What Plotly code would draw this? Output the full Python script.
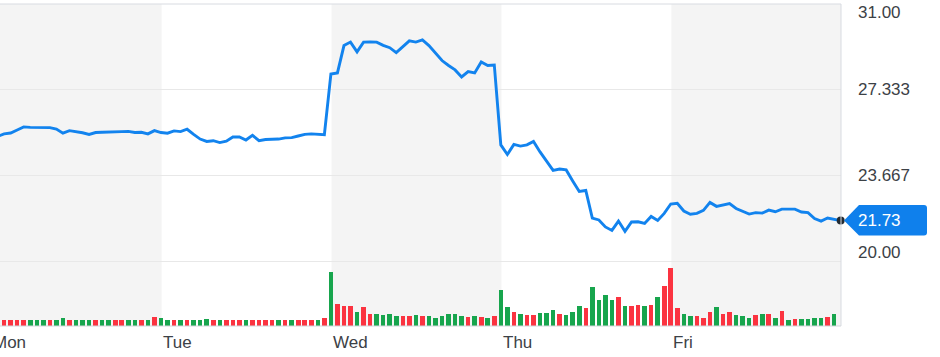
import plotly.graph_objects as go

# ---------------- data ----------------
days = ["Mon", "Tue", "Wed", "Thu", "Fri"]
bars_per_day = 26

# 15-minute closes (Mon..Fri) plus the final close at the end of Friday
price_mon = [25.31, 25.33, 25.44, 25.48, 25.61, 25.74, 25.72, 25.72, 25.72, 25.71, 25.65, 25.47, 25.58,
             25.54, 25.49, 25.42, 25.50, 25.51, 25.51, 25.51, 25.54, 25.55, 25.50, 25.51, 25.44, 25.58]
price_tue = [25.50, 25.47, 25.57, 25.54, 25.64, 25.42, 25.22, 25.12, 25.15, 25.07, 25.13, 25.31, 25.31,
             25.18, 25.38, 25.15, 25.20, 25.21, 25.22, 25.27, 25.28, 25.35, 25.42, 25.44, 25.42, 25.41]
price_wed = [28.00, 28.05, 29.22, 29.37, 28.95, 29.37, 29.38, 29.37, 29.23, 29.13, 28.92, 29.18, 29.42,
             29.37, 29.46, 29.22, 28.92, 28.58, 28.37, 28.18, 27.88, 28.11, 28.05, 28.52, 28.37, 28.39]
price_thu = [24.97, 24.56, 24.99, 24.92, 24.97, 25.12, 24.67, 24.28, 23.88, 23.94, 23.90, 23.43, 22.98,
             23.02, 21.84, 21.76, 21.46, 21.31, 21.71, 21.27, 21.67, 21.68, 21.61, 21.91, 21.74, 22.04]
price_fri = [22.44, 22.47, 22.14, 22.00, 22.04, 22.17, 22.51, 22.34, 22.39, 22.46, 22.25, 22.12, 22.01,
             22.07, 22.05, 22.18, 22.11, 22.22, 22.23, 22.22, 22.10, 22.07, 21.82, 21.71, 21.84, 21.78,
             21.73]

# volume per 15-minute bar (thousands of shares)
vol_mon = [162, 162, 162, 162, 162, 162, 162, 162, 162, 162, 162, 200, 162,
           162, 162, 162, 162, 162, 162, 162, 162, 162, 162, 162, 162, 225]
vol_tue = [200, 162, 162, 162, 162, 162, 162, 175, 162, 162, 162, 162, 162,
           162, 162, 162, 162, 162, 162, 162, 162, 162, 162, 162, 162, 212]
vol_wed = [1362, 550, 500, 488, 362, 475, 300, 300, 275, 300, 238, 250, 238,
           275, 250, 250, 212, 262, 288, 300, 250, 225, 250, 225, 212, 262]
vol_thu = [900, 475, 362, 300, 275, 275, 325, 325, 400, 312, 275, 338, 500,
           462, 975, 662, 775, 662, 725, 512, 512, 525, 500, 525, 725, 988]
vol_fri = [1442, 438, 312, 238, 238, 212, 338, 475, 288, 338, 275, 238, 188,
           275, 288, 312, 188, 375, 162, 175, 175, 175, 212, 188, 225, 292]

# bar direction: u = up (green), d = down (red)
dir_mon = "dudddduuuduuduuuduudduudud"
dir_tue = "uududuuududdduddddududddud"
dir_wed = "udddudduuuudduduuuuuududud"
dir_thu = "uududduuuduuuduuuududdudud"
dir_fri = "dduudddudduuududududuuuudu"

y_tick_values = [31.0, 27.333, 23.667, 20.0]
y_tick_labels = ["31.00", "27.333", "23.667", "20.00"]
last_price_label = "21.73"

# ---------------- build ----------------
price = price_mon + price_tue + price_wed + price_thu + price_fri
volume = vol_mon + vol_tue + vol_wed + vol_thu + vol_fri
direction = dir_mon + dir_tue + dir_wed + dir_thu + dir_fri
price_x = list(range(len(price)))
bar_x = list(range(len(volume)))
last_price = price[-1]

LINE_BLUE = "#1283ee"
GREEN = "#17a54d"
RED = "#fb3340"
BAND = "#f4f4f4"
GRID = "#e8e8e8"
TEXT = "#3c4146"
FONT = "Liberation Sans, Arial, Helvetica, sans-serif"

W, H = 940, 357
M_L, M_R, M_T, M_B = 0, 99, 4, 31
X_RANGE = [1.37, 130.05]
Y_RANGE = [17.22, 31.0]
VOL_AXIS_MAX = 8050
px_per_x = (W - M_L - M_R) / (X_RANGE[1] - X_RANGE[0])

bar_colors = [GREEN if d == "u" else RED for d in direction]

fig = go.Figure()

fig.add_trace(go.Bar(
    x=bar_x, y=volume, yaxis="y2",
    marker=dict(color=bar_colors, line=dict(width=0)),
    width=0.7, hoverinfo="skip", showlegend=False,
))

fig.add_trace(go.Scatter(
    x=price_x, y=price, mode="lines",
    line=dict(color=LINE_BLUE, width=2.9, shape="linear"),
    hoverinfo="skip", showlegend=False,
))

fig.add_trace(go.Scatter(
    x=[price_x[-1]], y=[last_price], mode="markers",
    marker=dict(color="#232a31", size=8),
    cliponaxis=False, hoverinfo="skip", showlegend=False,
))

shapes = []
# alternate day shading (Mon, Wed, Fri)
for d in range(len(days)):
    if d % 2 == 0:
        shapes.append(dict(type="rect", xref="x", yref="paper",
                           x0=d * bars_per_day + 0.1, x1=(d + 1) * bars_per_day + 0.1,
                           y0=0, y1=1, fillcolor=BAND, line=dict(width=0), layer="below"))
# frame lines
shapes.append(dict(type="line", xref="paper", yref="paper", x0=0, x1=1, y0=1, y1=1,
                   line=dict(color="#d8dbe1", width=1)))
shapes.append(dict(type="line", xref="paper", yref="paper", x0=1, x1=1, y0=0, y1=1,
                   line=dict(color="#d8dbe1", width=1)))
shapes.append(dict(type="line", xref="paper", yref="paper", x0=0, x1=1, y0=0, y1=0,
                   line=dict(color="#d3d6db", width=1)))
# current price tag
y_anchor = (last_price - Y_RANGE[0]) / (Y_RANGE[1] - Y_RANGE[0])
shapes.append(dict(type="path", xref="paper", yref="paper",
                   xsizemode="pixel", ysizemode="pixel", xanchor=1, yanchor=y_anchor,
                   path="M 3 0 L 18 15.5 L 83 15.5 Q 86 15.5 86 12.5 L 86 -12 Q 86 -15 83 -15 L 18 -15 Z",
                   fillcolor="#0f80ec", line=dict(width=0), layer="above"))

annotations = []
for v, t in zip(y_tick_values, y_tick_labels):
    shift = 0
    if v == max(y_tick_values):
        shift = -8.5
    elif v == min(y_tick_values):
        shift = 8.5
    annotations.append(dict(xref="paper", yref="y", x=1, y=v, xanchor="left", yanchor="middle",
                            xshift=15, yshift=shift, text=t, showarrow=False,
                            font=dict(family=FONT, size=17, color=TEXT)))
annotations.append(dict(xref="paper", yref="y", x=1, y=last_price, xanchor="left", yanchor="middle",
                        xshift=15, text=last_price_label, showarrow=False,
                        font=dict(family=FONT, size=17, color="white")))
for d, name in enumerate(days):
    start = d * bars_per_day
    # anchor at the visible range when a day starts left of the window
    ax = max(start, X_RANGE[0])
    annotations.append(dict(xref="x", yref="paper", x=ax, y=0, xanchor="left",
                            yanchor="top", yshift=-5, xshift=(start - ax) * px_per_x,
                            text=name, showarrow=False,
                            font=dict(family=FONT, size=17, color=TEXT)))

fig.update_layout(
    width=W, height=H,
    margin=dict(l=M_L, r=M_R, t=M_T, b=M_B, pad=0),
    paper_bgcolor="white", plot_bgcolor="white",
    bargap=0,
    xaxis=dict(range=X_RANGE, showgrid=False, zeroline=False, showticklabels=False,
               ticks="", showline=False, fixedrange=True),
    yaxis=dict(range=Y_RANGE, side="right", tickvals=y_tick_values, showticklabels=False,
               showgrid=True, gridcolor=GRID, gridwidth=1, zeroline=False, ticks="",
               showline=False, fixedrange=True),
    yaxis2=dict(range=[0, VOL_AXIS_MAX], overlaying="y", visible=False, fixedrange=True),
    shapes=shapes,
    annotations=annotations,
    showlegend=False,
)

fig.write_html("out.html")
